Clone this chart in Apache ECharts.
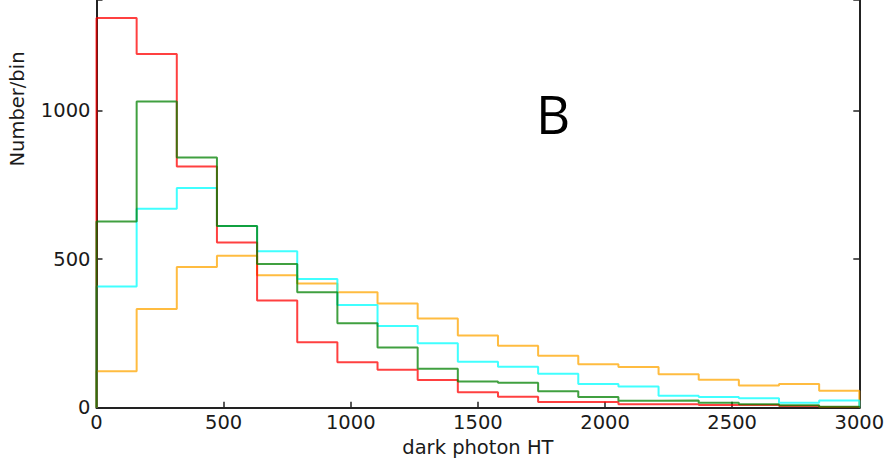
<!DOCTYPE html>
<html><head><meta charset="utf-8">
<script src="https://cdn.jsdelivr.net/npm/echarts@6/dist/echarts.min.js"></script>
<style>html,body{margin:0;padding:0;background:#fff}#c{width:894px;height:469px}</style>
</head><body><div id="c"></div>
<script>
// Histogram setup: 19 equal bins between 0 and 3000
const binCount = 19;
const xMin = 0;
const xMax = 3000;
const yMax = 1373;
const xTicks = [0, 500, 1000, 1500, 2000, 2500, 3000];
const yTicks = [0, 500, 1000];

// Counts per bin
const redCounts    = [1312, 1191, 812, 556, 361, 220, 153, 128, 93, 52, 37, 19, 19, 12, 12, 9, 9, 6, 2];
const greenCounts  = [627, 1031, 843, 612, 484, 389, 284, 203, 131, 88, 84, 55, 36, 23, 24, 17, 12, 8, 3];
const cyanCounts   = [408, 670, 740, 612, 527, 433, 346, 275, 217, 155, 138, 114, 80, 71, 40, 36, 32, 17, 24];
const orangeCounts = [123, 332, 474, 512, 446, 418, 389, 351, 300, 243, 209, 175, 146, 137, 113, 94, 75, 80, 57];

const seriesNames = ['orange', 'cyan', 'red', 'green'];
const seriesColors = ['rgba(255,165,0,0.75)', 'rgba(0,255,255,0.75)', 'rgba(255,0,0,0.75)', 'rgba(0,128,0,0.75)'];
const seriesCounts = [orangeCounts, cyanCounts, redCounts, greenCounts];

function stepData(counts) {
  const w = (xMax - xMin) / binCount;
  const d = [[xMin, 0]];
  counts.forEach((v, i) => d.push([xMin + i * w, v]));
  d.push([xMax, counts[counts.length - 1]]);
  d.push([xMax, 0]);
  return d;
}

const font = 'DejaVu Sans';
const frame = {show: true, onZero: false, lineStyle: {color: '#222', width: 2}};
const tick = {show: true, inside: true, length: 6, lineStyle: {color: '#222', width: 1.5}};
const chart = echarts.init(document.getElementById('c'), null, {renderer: 'svg'});
chart.setOption({
  animation: false,
  grid: {left: 96.5, right: 34.7, top: 0, bottom: 61.3, show: false},
  xAxis: {
    type: 'value', min: xMin, max: xMax, interval: 500,
    axisLine: frame, axisTick: tick,
    splitLine: {show: false},
    axisLabel: {fontFamily: font, fontSize: 19.5, color: '#1a1a1a', margin: 5,
      formatter: v => xTicks.includes(v) ? String(v) : ''},
    name: 'dark photon HT', nameLocation: 'middle', nameGap: 28,
    nameTextStyle: {fontFamily: font, fontSize: 19.5, color: '#1a1a1a'}
  },
  yAxis: [{
    type: 'value', min: 0, max: yMax, interval: 500, position: 'left',
    axisLine: frame, axisTick: tick,
    splitLine: {show: false},
    axisLabel: {fontFamily: font, fontSize: 19.5, color: '#1a1a1a', margin: 6,
      formatter: v => yTicks.includes(v) ? String(v) : ''}
  }, {
    type: 'value', min: 0, max: yMax, interval: 500, position: 'right',
    axisLine: frame, axisTick: tick,
    splitLine: {show: false},
    axisLabel: {show: false}
  }],
  graphic: [
    {type: 'text', x: 17, y: 109, rotation: Math.PI / 2,
     style: {text: 'Number/bin', fontFamily: font, fontSize: 19.5, fill: '#1a1a1a',
             align: 'center', verticalAlign: 'middle'}},
    {type: 'text', x: 553, y: 113,
     style: {text: 'B', fontFamily: 'Open Sans', fontSize: 53, fill: '#000',
             align: 'center', verticalAlign: 'middle'}}
  ],
  series: seriesCounts.map((c, i) => ({
    name: seriesNames[i], type: 'line', step: 'end', showSymbol: false,
    data: stepData(c), clip: false,
    lineStyle: {color: seriesColors[i], width: 2}
  }))
});
</script>
</body></html>
